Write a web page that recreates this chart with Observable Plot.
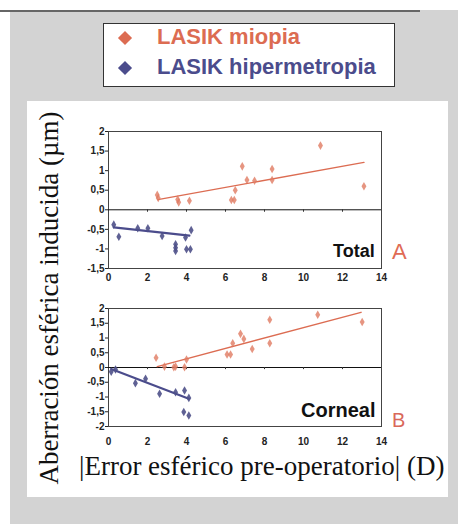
<!DOCTYPE html>
<html>
<head>
<meta charset="utf-8">
<script src="https://cdn.jsdelivr.net/npm/d3@7"></script>
<script src="https://cdn.jsdelivr.net/npm/@observablehq/plot@0.6"></script>
<style>
  html, body { margin: 0; padding: 0; background: #ffffff; }
  #root { position: relative; width: 458px; height: 524px; overflow: hidden; font-family: "Liberation Sans", Arial, sans-serif; }
  .abs { position: absolute; }
  svg { background: transparent !important; }
</style>
</head>
<body>
<div id="root"></div>
<script>
// ---------- data ----------
const seriesNames = ["LASIK miopia", "LASIK hipermetropia"];
const seriesColors = ["#dc6c52", "#4b4c8c"];
const panelLabels = ["Total", "Corneal"];
const panelLetters = ["A", "B"];
const xTicks = [0, 2, 4, 6, 8, 10, 12, 14];
const yTicksTotal = [-1.5, -1, -0.5, 0, 0.5, 1, 1.5, 2];
const yTicksCorneal = [-2, -1.5, -1, -0.5, 0, 0.5, 1, 1.5, 2];

// Total (A)
const totalMioX = [2.5, 2.55, 3.55, 3.6, 4.15, 6.3, 6.45, 6.5, 6.86, 7.1, 7.49, 8.39, 8.39, 10.87, 13.1];
const totalMioY = [0.38, 0.3, 0.26, 0.19, 0.23, 0.25, 0.25, 0.5, 1.11, 0.76, 0.74, 1.04, 0.76, 1.64, 0.6];
const totalHipX = [0.27, 0.53, 1.5, 2.02, 2.75, 3.44, 3.44, 3.44, 3.95, 4.0, 4.2, 4.24];
const totalHipY = [-0.38, -0.69, -0.47, -0.47, -0.67, -0.88, -0.97, -1.05, -0.71, -1.01, -1.01, -0.52];
const totalMioFitX = [2.53, 13.1];
const totalMioFitY = [0.26, 1.21];
const totalHipFitX = [0.27, 4.15];
const totalHipFitY = [-0.45, -0.66];

// Corneal (B)
const cornMioX = [2.44, 2.87, 3.35, 3.44, 3.9, 4.0, 6.08, 6.26, 6.37, 6.77, 6.94, 7.37, 8.27, 8.27, 10.73, 13.01];
const cornMioY = [0.33, 0.03, 0.01, 0.03, 0.01, 0.27, 0.44, 0.44, 0.82, 1.14, 0.97, 0.63, 1.62, 0.82, 1.79, 1.54];
const cornHipX = [0.14, 0.36, 1.38, 1.9, 2.62, 3.44, 3.9, 4.12, 3.86, 4.12];
const cornHipY = [-0.14, -0.07, -0.53, -0.38, -0.89, -0.84, -0.78, -1.03, -1.51, -1.63];
const cornMioFitX = [2.5, 12.95];
const cornMioFitY = [0.03, 1.87];
const cornHipFitX = [0.14, 4.12];
const cornHipFitY = [-0.05, -1.06];

const yTitle = "Aberración esférica inducida (µm)";
const xTitle = "|Error esférico pre-operatorio| (D)";

// ---------- helpers ----------
const zip = (xs, ys) => xs.map((x, i) => ({x, y: ys[i]}));
const comma = d => String(d).replace(".", ",");

function panel({mioX, mioY, hipX, hipY, mioFX, mioFY, hipFX, hipFY, yDomain, yTicks, height, marginTop, marginBottom, xPad}) {
  return Plot.plot({
    width: 458,
    height,
    marginLeft: 108,
    marginRight: 77,
    marginTop,
    marginBottom,
    style: {background: "transparent", fontFamily: "'Liberation Sans', Arial, sans-serif", fontSize: "10px", fontWeight: "bold", color: "#222"},
    x: {domain: [0, 14], ticks: xTicks, tickFormat: comma, tickSize: 0, tickPadding: xPad, label: null},
    y: {domain: yDomain, ticks: yTicks, tickFormat: comma, tickSize: 3, tickPadding: 1, label: null},
    marks: [
      Plot.frame({stroke: "#444", strokeWidth: 1}),
      Plot.ruleY([0], {stroke: "#111", strokeWidth: 1}),
      Plot.ruleX(xTicks.slice(1, -1), {x: d => d, y1: 0, y2: (yDomain[1] - yDomain[0]) * -0.018, stroke: "#333"}),
      Plot.line(zip(mioFX, mioFY), {x: "x", y: "y", stroke: seriesColors[0], strokeWidth: 1.4}),
      Plot.line(zip(hipFX, hipFY), {x: "x", y: "y", stroke: seriesColors[1], strokeWidth: 2.2}),
      Plot.dot(zip(mioX, mioY), {x: "x", y: "y", symbol: "diamond", r: 2.6, fill: "#e07a62", fillOpacity: 0.8}),
      Plot.dot(zip(hipX, hipY), {x: "x", y: "y", symbol: "diamond", r: 2.6, fill: "#4e5088", fillOpacity: 0.9})
    ]
  });
}

const root = document.getElementById("root");
function addDiv(css, html) {
  const d = document.createElement("div");
  d.className = "abs";
  d.style.cssText = css;
  if (html !== undefined) d.textContent = html;
  root.appendChild(d);
  return d;
}

// background
addDiv("left:10px;top:10px;width:448px;height:514px;background:#d3d3d3;");
addDiv("left:0px;top:10px;width:420px;height:2px;background:#666;");
// white panel
addDiv("left:27px;top:101px;width:421px;height:396px;background:#ffffff;");

// legend
addDiv("left:103px;top:23px;width:290px;height:62px;background:#fff;border:1px solid #333;");
seriesNames.forEach((name, i) => {
  const top = i === 0 ? 33 : 63;
  addDiv(`left:120px;top:${top}px;width:10px;height:10px;background:${seriesColors[i]};transform:rotate(45deg);`);
  addDiv(`left:157px;top:${top - 11}px;font-size:22px;font-weight:bold;color:${seriesColors[i]};white-space:nowrap;line-height:30px;`, name);
});

// plots
const pA = panel({mioX: totalMioX, mioY: totalMioY, hipX: totalHipX, hipY: totalHipY,
  mioFX: totalMioFitX, mioFY: totalMioFitY, hipFX: totalHipFitX, hipFY: totalHipFitY,
  yDomain: [-1.5, 2], yTicks: yTicksTotal, height: 190, marginTop: 31, marginBottom: 22, xPad: 5});
pA.style.position = "absolute"; pA.style.left = "0px"; pA.style.top = "100px";
root.appendChild(pA);

const pB = panel({mioX: cornMioX, mioY: cornMioY, hipX: cornHipX, hipY: cornHipY,
  mioFX: cornMioFitX, mioFY: cornMioFitY, hipFX: cornHipFitX, hipFY: cornHipFitY,
  yDomain: [-2, 2], yTicks: yTicksCorneal, height: 160, marginTop: 18, marginBottom: 24, xPad: 11});
pB.style.position = "absolute"; pB.style.left = "0px"; pB.style.top = "290px";
root.appendChild(pB);

// panel labels
addDiv("left:333px;top:240px;font-size:18px;font-weight:bold;color:#111;line-height:22px;", panelLabels[0]);
addDiv("left:392px;top:239px;font-size:22px;color:#e06b55;line-height:26px;", panelLetters[0]);
addDiv("left:301px;top:398px;font-size:20px;font-weight:bold;color:#111;line-height:24px;", panelLabels[1]);
addDiv("left:392px;top:408px;font-size:20px;color:#d9685a;line-height:24px;", panelLetters[1]);

// axis titles
addDiv("left:79px;top:451px;font-family:'Liberation Serif','Times New Roman',serif;font-size:27px;color:#111;white-space:nowrap;line-height:30px;", xTitle);
addDiv("left:49px;top:298px;font-family:'Liberation Serif','Times New Roman',serif;font-size:27px;color:#111;white-space:nowrap;line-height:30px;transform:translate(-50%,-50%) rotate(-90deg);", yTitle);
</script>
</body>
</html>
